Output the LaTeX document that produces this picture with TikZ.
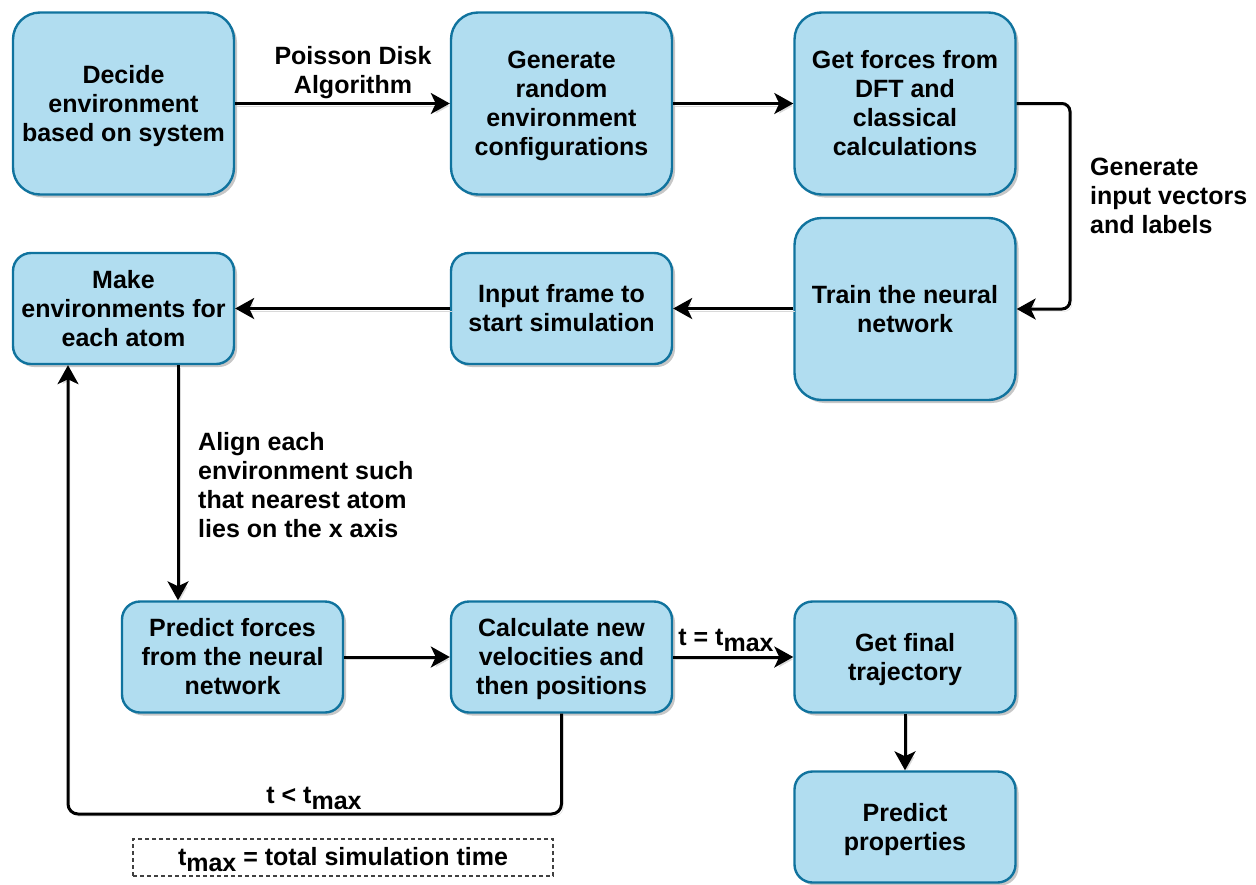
\documentclass[tikz,border=0pt]{standalone}
\usepackage{fontspec}
\setmainfont{Liberation Sans}
\usetikzlibrary{arrows.meta,shadows,calc}
\definecolor{boxfill}{HTML}{B1DDF0}
\definecolor{boxline}{HTML}{10739E}
\newcommand{\tmax}{t\raisebox{-6pt}{max}}
\newcommand{\hs}{\rule{0pt}{23.2pt}}
\newcommand{\ts}{\rule[-5.8pt]{0pt}{0pt}}
\begin{document}
\begin{tikzpicture}[x=1pt,y=-1pt,
  txt/.style={font=\bfseries\fontsize{25}{29}\selectfont},
  box/.style={txt, draw=boxline, fill=boxfill, line width=2.4pt, rounded corners=#1,
    align=center, inner sep=0pt,
    drop shadow={shadow xshift=3pt, shadow yshift=-3pt, fill=black, opacity=0.22}},
  box/.default=18pt,
  tall/.style={box=27pt, minimum width=221pt, minimum height=182pt},
  short/.style={box=18pt, minimum width=221pt, minimum height=111pt},
  arr/.style={line width=3pt, -{Stealth[length=19pt,width=21pt,inset=5pt]},
    preaction={draw=black!15, transform canvas={xshift=2pt,yshift=-2.5pt}}},
  lbl/.style={txt, inner sep=0pt},
]
\useasboundingbox (0,0) rectangle (1256,884);

% nodes
\node[tall] (n1) at (123.5,103.5) {\hs Decide\\environment\\based on system\ts};
\node[tall] (n2) at (561.5,103.5) {\hs Generate\\random\\environment\\configurations\ts};
\node[tall] (n3) at (905,103.5) {\hs Get forces from\\DFT and\\classical\\calculations\ts};
\node[tall] (n4) at (905,309) {\hs Train the neural\\network\ts};
\node[short] (n5) at (561.5,308.5) {\hs Input frame to\\start simulation\ts};
\node[short] (n6) at (123.5,308.5) {\hs Make\\environments for\\each atom\ts};
\node[short] (n7) at (232.5,657) {\hs Predict forces\\from the neural\\network\ts};
\node[short] (n8) at (561.5,657) {\hs Calculate new\\velocities and\\then positions\ts};
\node[short] (n9) at (905,657) {\hs Get final\\trajectory\ts};
\node[short] (n10) at (905,827) {\hs Predict\\properties\ts};

\node[txt, draw=black!75, line width=1.2pt, dash pattern=on 4pt off 3pt,
  minimum width=420pt, minimum height=37pt, inner sep=0pt] (note) at (343,857.5) {\hs\tmax{} = total simulation time\ts};

% helper coordinates
\coordinate (r1) at (1070,0);
\coordinate (d1) at (178,0);
\coordinate (lb) at (68,814);

% connectors
\draw[arr] (n1) -- (n2);
\draw[arr] (n2) -- (n3);
\draw[arr, rounded corners=8pt] (n3.east) -- (n3.east -| r1) |- (n4.east);
\draw[arr] (n4.west |- n5) -- (n5.east);
\draw[arr] (n5) -- (n6);
\draw[arr] (n6.south -| d1) -- (n7.north -| d1);
\draw[arr] (n7) -- (n8);
\draw[arr] (n8) -- (n9);
\draw[arr] (n9) -- (n10);
\draw[arr, rounded corners=10pt] (n8.south) |- (lb) -- (n6.south -| lb);

% labels
\node[lbl, align=center] (l1) at (353,73) {Poisson Disk\\Algorithm};
\node[lbl, align=left, anchor=west] (l2) at (1090,196) {Generate\\input vectors\\and labels};
\node[lbl, align=left, anchor=west] (l3) at (198,485) {Align each\\environment such\\that nearest atom\\lies on the x axis};
\node[lbl] (l4) at (726,640) {t = \tmax};
\node[lbl] (l5) at (314,798) {t < \tmax};
\end{tikzpicture}
\end{document}
